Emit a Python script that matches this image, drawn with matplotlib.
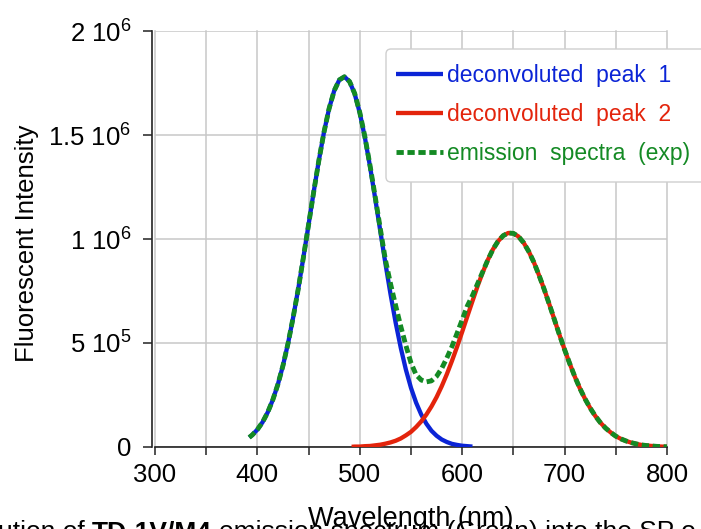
import numpy as np
import matplotlib
matplotlib.use("Agg")
import matplotlib.pyplot as plt
from matplotlib.patches import FancyBboxPatch
from matplotlib.transforms import IdentityTransform

plt.rcParams["font.family"] = ["Liberation Sans", "DejaVu Sans"]
plt.rcParams["mathtext.fontset"] = "custom"
plt.rcParams["mathtext.rm"] = "Liberation Sans"
plt.rcParams["mathtext.it"] = "Liberation Sans:italic"
plt.rcParams["mathtext.bf"] = "Liberation Sans:bold"

# ── data (intensity in thousands of counts) ───────────────────────────────────
PEAK1_NM = [392, 395, 400, 405, 410, 415, 420, 425, 430, 435, 440, 445, 450,
            455, 460, 465, 470, 475, 480, 485, 490, 495, 500, 505, 510, 515,
            520, 525, 530, 535, 540, 545, 550, 555, 560, 565, 570, 575, 580,
            585, 590, 595, 600, 605, 610]
PEAK1_K = [46, 58, 84, 119, 166, 226, 301, 392, 500, 625, 763, 914, 1070,
           1227, 1377, 1513, 1627, 1713, 1765, 1780, 1757, 1698, 1606, 1487,
           1348, 1196, 1039, 883, 735, 598, 477, 372, 284, 213, 156, 112, 78,
           54, 36, 24, 15, 10, 6, 4, 2]

PEAK2_NM = [492, 495, 500, 505, 510, 515, 520, 525, 530, 535, 540, 545, 550,
            555, 560, 565, 570, 575, 580, 585, 590, 595, 600, 605, 610, 615,
            620, 625, 630, 635, 640, 645, 650, 655, 660, 665, 670, 675, 680,
            685, 690, 695, 700, 705, 710, 715, 720, 725, 730, 735, 740, 745,
            750, 755, 760, 765, 770, 775, 780, 785, 790, 795, 800]
PEAK2_K = [1, 2, 2, 4, 5, 8, 11, 16, 22, 30, 41, 56, 73, 96, 123, 156, 195,
           240, 292, 350, 414, 482, 554, 628, 701, 773, 839, 899, 950, 989,
           1016, 1029, 1027, 1012, 982, 940, 888, 826, 759, 687, 613, 539, 468,
           401, 338, 281, 231, 187, 149, 117, 91, 70, 52, 39, 29, 21, 15, 10,
           7, 5, 3, 2, 1]

EXP_NM = [392, 395, 400, 405, 410, 415, 420, 425, 430, 435, 440, 445, 450,
          455, 460, 465, 470, 475, 480, 485, 490, 495, 500, 505, 510, 515,
          520, 525, 530, 535, 540, 545, 550, 555, 560, 565, 570, 575, 580,
          585, 590, 595, 600, 605, 610, 615, 620, 625, 630, 635, 640, 645,
          650, 655, 660, 665, 670, 675, 680, 685, 690, 695, 700, 705, 710,
          715, 720, 725, 730, 735, 740, 745, 750, 755, 760, 765, 770, 775,
          780, 785, 790, 795, 800]
EXP_K = [46, 58, 84, 119, 166, 226, 301, 392, 500, 625, 763, 914, 1070, 1227,
         1377, 1513, 1627, 1713, 1765, 1780, 1757, 1700, 1608, 1491, 1353,
         1204, 1050, 900, 785, 680, 580, 488, 404, 347, 322, 313, 318, 340,
         378, 428, 483, 547, 612, 678, 728, 785, 842, 899, 950, 989, 1016,
         1029, 1027, 1012, 982, 940, 888, 826, 759, 687, 613, 539, 468, 401,
         338, 281, 231, 187, 149, 117, 91, 70, 52, 39, 29, 21, 15, 10, 7, 5,
         3, 2, 1]

SERIES = ["deconvoluted  peak  1", "deconvoluted  peak  2",
          "emission  spectra  (exp)"]

X_TICKS = [300, 350, 400, 450, 500, 550, 600, 650, 700, 750, 800]
X_TICKLABELS = ["300", "", "400", "", "500", "", "600", "", "700", "", "800"]
Y_TICKS = [0, 5e5, 1e6, 1.5e6, 2e6]
Y_TICKLABELS = ["0", r"5 $\mathregular{10^{5}}$", r"1 $\mathregular{10^{6}}$",
                r"1.5 $\mathregular{10^{6}}$", r"2 $\mathregular{10^{6}}$"]

BLUE  = "#0b24d6"
RED   = "#e3240c"
GREEN = "#148a24"
GRID  = "#c8c8c8"

# ── figure ────────────────────────────────────────────────────────────────────
W, H = 701, 529
fig = plt.figure(figsize=(W / 100, H / 100), dpi=100)
ax = fig.add_axes([155 / W, (H - 447) / H, 512 / W, 416 / H])

l1, = ax.plot(PEAK1_NM, np.array(PEAK1_K) * 1e3, color=BLUE, lw=3.1,
              solid_capstyle="butt", zorder=3)
l2, = ax.plot(PEAK2_NM, np.array(PEAK2_K) * 1e3, color=RED, lw=3.1,
              solid_capstyle="butt", zorder=3)
l3, = ax.plot(EXP_NM, np.array(EXP_K) * 1e3, color=GREEN, lw=3.5,
              linestyle=(0, (1.5, 0.75)), zorder=4)

ax.set_xlim(300, 800)
ax.set_ylim(0, 2e6)
ax.set_xticks(X_TICKS)
ax.set_xticklabels(X_TICKLABELS)
ax.set_yticks(Y_TICKS)
ax.set_yticklabels(Y_TICKLABELS)

ax.grid(True, color=GRID, lw=1.1)
ax.set_axisbelow(True)
for gl in ax.get_xgridlines() + ax.get_ygridlines():
    gl.set_clip_on(False)

ax.spines[["top", "right"]].set_visible(False)
for sp in ("left", "bottom"):
    ax.spines[sp].set_color("#222222")
    ax.spines[sp].set_linewidth(1.2)
ax.spines["left"].set_position(("outward", 2.5))

ax.tick_params(axis="x", direction="out", length=6, width=1.1,
               color="#222222", labelsize=18.5, pad=5.5)
ax.tick_params(axis="y", direction="out", length=6.5, width=1.1,
               color="#222222", labelsize=18.5, pad=8)

ax.set_xlabel("Wavelength (nm)", fontsize=19.5)
ax.xaxis.set_label_coords(0.5, -0.142)
ax.set_ylabel("Fluorescent Intensity", fontsize=18.5)
ax.yaxis.set_label_coords(-0.226, 0.49)

# legend box + entries
frame = FancyBboxPatch((386, H - 182), 340, 133,
                       boxstyle="round,pad=0,rounding_size=5",
                       transform=IdentityTransform(),
                       facecolor="white", edgecolor="#cfcfcf", lw=1.0)
fig.add_artist(frame)
fig.legend([l1, l2, l3], SERIES, loc="upper left",
           bbox_to_anchor=(396 / W, 1 - 64 / H), frameon=False,
           fontsize=16.5, labelcolor="linecolor", borderpad=0,
           borderaxespad=0, handlelength=2.05, handletextpad=0.18,
           labelspacing=0.7)

# caption line, cut by the bottom edge of the picture
y_cap = (H - 539) / H
t1 = fig.text(-2 / W, y_cap, "ution of", fontsize=19, va="baseline")
t2 = ax.annotate("TD-1V/M4", xy=(1, 0), xycoords=t1, xytext=(5, 0),
                 textcoords="offset points", va="bottom", ha="left",
                 fontsize=19, fontweight="bold", annotation_clip=False)
t3 = ax.annotate("emission spectrum (Green) into the SP o", xy=(1, 0),
                 xycoords=t2, xytext=(5, 0), textcoords="offset points",
                 va="bottom", ha="left", fontsize=19, annotation_clip=False)

fig.savefig("out.png", dpi=100)
